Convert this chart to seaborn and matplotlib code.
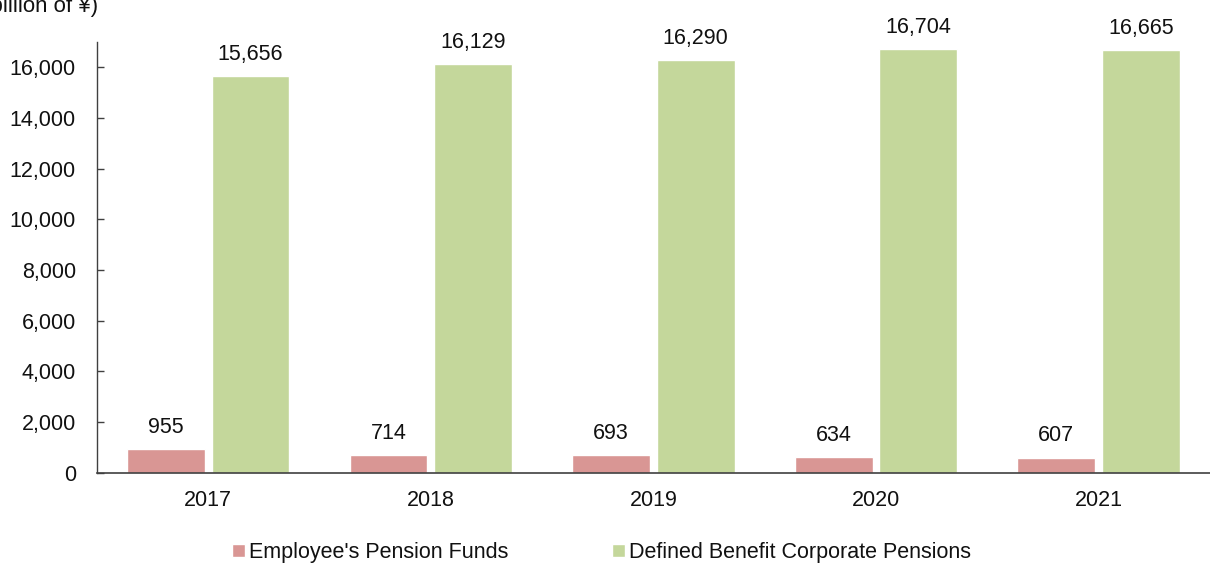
import matplotlib
matplotlib.use("Agg")
import matplotlib.pyplot as plt
import seaborn as sns
import pandas as pd

years = ["2017", "2018", "2019", "2020", "2021"]
employee_funds = [955, 714, 693, 634, 607]
defined_benefit = [15656, 16129, 16290, 16704, 16665]
series_names = ["Employee's Pension Funds", "Defined Benefit Corporate Pensions"]
colors = ["#D99694", "#C4D79B"]

df = pd.DataFrame({
    "year": years * 2,
    "value": employee_funds + defined_benefit,
    "series": [series_names[0]] * len(years) + [series_names[1]] * len(years),
})

sns.set_theme(style="white")
plt.rcParams["font.family"] = ["Liberation Sans", "DejaVu Sans"]

fs = 15.5
fig = plt.figure(figsize=(12.1, 5.65), dpi=100)
ax = fig.add_axes([0.080, 0.163, 0.920, 0.763])

sns.barplot(data=df, x="year", y="value", hue="series", palette=colors,
            width=0.76, gap=0.08, ax=ax, errorbar=None, saturation=1,
            legend=True)

for container in ax.containers:
    ax.bar_label(container, labels=[f"{v:,.0f}" for v in container.datavalues],
                 padding=8, fontsize=fs, color="#111111", clip_on=False)

ax.set_ylim(0, 17000)
ax.set_xlim(-0.5, 4.5)
ax.set_yticks(range(0, 16001, 2000))
ax.set_yticklabels([f"{v:,}" for v in range(0, 16001, 2000)])
ax.tick_params(axis="y", direction="in", length=5, width=1, color="#404040",
               left=True, pad=15, labelsize=fs, labelcolor="#111111")
ax.tick_params(axis="x", bottom=False, labelsize=fs, pad=6,
               labelcolor="#111111")
ax.set_xlabel("")
ax.set_ylabel("")

for side in ["top", "right"]:
    ax.spines[side].set_visible(False)
ax.spines["left"].set_color("#404040")
ax.spines["bottom"].set_color("#404040")
ax.spines["left"].set_linewidth(1)
ax.spines["bottom"].set_linewidth(1.2)

handles, labels = ax.get_legend_handles_labels()
ax.get_legend().remove()
fig.legend(handles, labels, loc="center", bbox_to_anchor=(0.497, 0.022), ncol=2,
           frameon=False, fontsize=fs, handlelength=0.6, handleheight=0.6,
           handletextpad=0.2, columnspacing=4.8, labelcolor="#111111",
           borderpad=0)

# unit caption in the top-left corner
fig.text(0.081, 0.979, "(billion of ¥)", fontsize=16, ha="right",
         va="baseline", color="#111111")

fig.savefig("out.png", dpi=100)
